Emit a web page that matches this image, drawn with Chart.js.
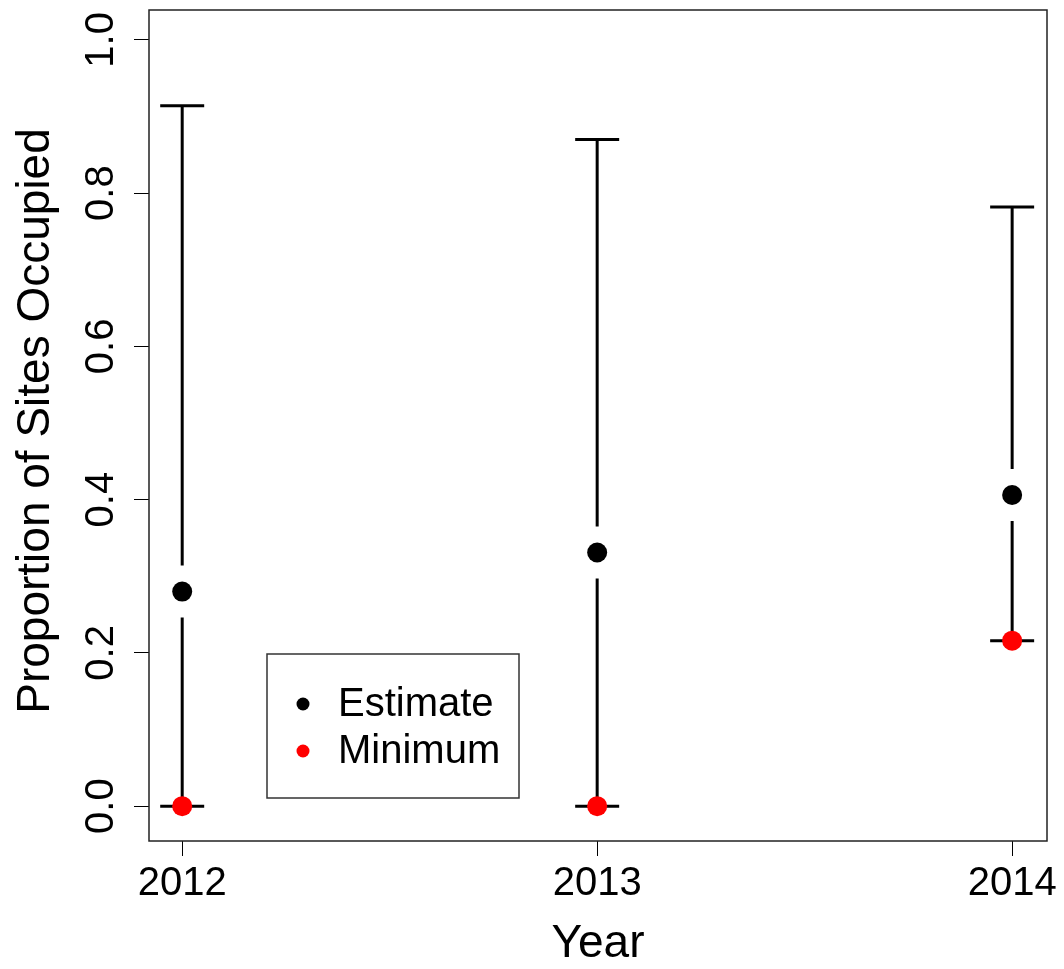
<!DOCTYPE html>
<html>
<head>
<meta charset="utf-8">
<script src="https://cdn.jsdelivr.net/npm/chart.js@4.4.1/dist/chart.umd.min.js"></script>
<style>
  html, body { margin: 0; padding: 0; background: #fff; }
  canvas { display: block; }
</style>
</head>
<body>
<canvas id="occChart" width="1064" height="969"></canvas>
<script>
// Données
const years = [2012, 2013, 2014];
const estimate = [0.28, 0.331, 0.406];
const minimum = [0, 0, 0.216];
const upper = [0.914, 0.870, 0.782];
const lower = [0, 0, 0.216];
const xTicks = [2012, 2013, 2014];
const yTicks = [0, 0.2, 0.4, 0.6, 0.8, 1.0];
const yTickLabels = ['0.0', '0.2', '0.4', '0.6', '0.8', '1.0'];
const legendLabels = ['Estimate', 'Minimum'];
const legendColors = ['#000000', '#ff0000'];

const FONT = '"Liberation Sans", Arial, sans-serif';
const GAP = 26;  // espace autour du point (comme plotCI)
const CAP = 22;  // demi-largeur des barres d'erreur

// Barres d'erreur, cadre, titres et légende façon R
const rPlot = {
    id: 'rPlot',
    beforeDatasetsDraw(chart) {
        const { ctx, scales: { x, y } } = chart;
        ctx.save();
        ctx.strokeStyle = '#000';
        ctx.lineWidth = 3;
        years.forEach((yr, i) => {
            const px = x.getPixelForValue(yr);
            const pe = y.getPixelForValue(estimate[i]);
            const pu = y.getPixelForValue(upper[i]);
            const pl = y.getPixelForValue(lower[i]);
            ctx.beginPath();
            ctx.moveTo(px, pu); ctx.lineTo(px, pe - GAP);
            if (pl > pe + GAP) { ctx.moveTo(px, pe + GAP); ctx.lineTo(px, pl); }
            ctx.moveTo(px - CAP, pu); ctx.lineTo(px + CAP, pu);
            ctx.moveTo(px - CAP, pl); ctx.lineTo(px + CAP, pl);
            ctx.stroke();
        });
        ctx.restore();
    },
    afterDraw(chart) {
        const { ctx, chartArea: a, scales: { y } } = chart;
        ctx.save();
        // cadre
        ctx.strokeStyle = '#222';
        ctx.lineWidth = 1.5;
        ctx.strokeRect(a.left, a.top, a.right - a.left, a.bottom - a.top);

        // étiquettes de l'axe Y (verticales)
        ctx.fillStyle = '#000';
        ctx.font = '40px ' + FONT;
        ctx.textAlign = 'center';
        ctx.textBaseline = 'alphabetic';
        yTicks.forEach((v, i) => {
            ctx.save();
            ctx.translate(113, y.getPixelForValue(v));
            ctx.rotate(-Math.PI / 2);
            ctx.fillText(yTickLabels[i], 0, 0);
            ctx.restore();
        });

        // titres des axes
        ctx.font = '46px ' + FONT;
        ctx.save();
        ctx.translate(49, 421);
        ctx.rotate(-Math.PI / 2);
        ctx.fillText('Proportion of Sites Occupied', 0, 0);
        ctx.restore();
        ctx.fillText('Year', (a.left + a.right) / 2, 957);

        // légende
        ctx.fillStyle = '#fff';
        ctx.fillRect(267, 654, 252, 144);
        ctx.strokeStyle = '#333';
        ctx.lineWidth = 1.5;
        ctx.strokeRect(267, 654, 252, 144);
        ctx.font = '40px ' + FONT;
        ctx.textAlign = 'left';
        ctx.textBaseline = 'middle';
        legendLabels.forEach((lab, i) => {
            const cy = 704 + i * 47;
            ctx.fillStyle = legendColors[i];
            ctx.beginPath();
            ctx.arc(303, cy, 6.5, 0, Math.PI * 2);
            ctx.fill();
            ctx.fillStyle = '#000';
            ctx.fillText(lab, 338, cy + 1);
        });
        ctx.restore();
    }
};

const ctx = document.getElementById('occChart').getContext('2d');
const occChart = new Chart(ctx, {
    type: 'scatter',
    data: {
        datasets: [{
            label: 'Minimum',
            data: years.map((yr, i) => ({ x: yr, y: minimum[i] })),
            backgroundColor: '#ff0000',
            borderWidth: 0,
            pointRadius: 10,
            order: 1
        }, {
            label: 'Estimate',
            data: years.map((yr, i) => ({ x: yr, y: estimate[i] })),
            backgroundColor: '#000000',
            borderWidth: 0,
            pointRadius: 10,
            order: 0
        }]
    },
    options: {
        responsive: false,
        animation: false,
        devicePixelRatio: 1,
        layout: { padding: { top: 7, right: 17, left: 0, bottom: 0 } },
        plugins: { legend: { display: false }, tooltip: { enabled: false } },
        scales: {
            x: {
                type: 'linear',
                min: 2011.92,
                max: 2014.084,
                afterBuildTicks: (s) => { s.ticks = xTicks.map(v => ({ value: v })); },
                afterFit: (s) => { s.height = 128; },
                border: { display: false },
                grid: { drawOnChartArea: false, tickLength: 15, tickColor: '#000', tickWidth: 1 },
                ticks: {
                    color: '#000',
                    padding: 4,
                    maxRotation: 0,
                    font: { family: FONT, size: 40 },
                    callback: (v) => String(v)
                }
            },
            y: {
                min: -0.0455,
                max: 1.039,
                afterBuildTicks: (s) => { s.ticks = yTicks.map(v => ({ value: v })); },
                afterFit: (s) => { s.width = 149; },
                border: { display: false },
                grid: { drawOnChartArea: false, tickLength: 15, tickColor: '#000', tickWidth: 1 },
                ticks: { display: false }
            }
        }
    },
    plugins: [rPlot]
});
</script>
</body>
</html>
